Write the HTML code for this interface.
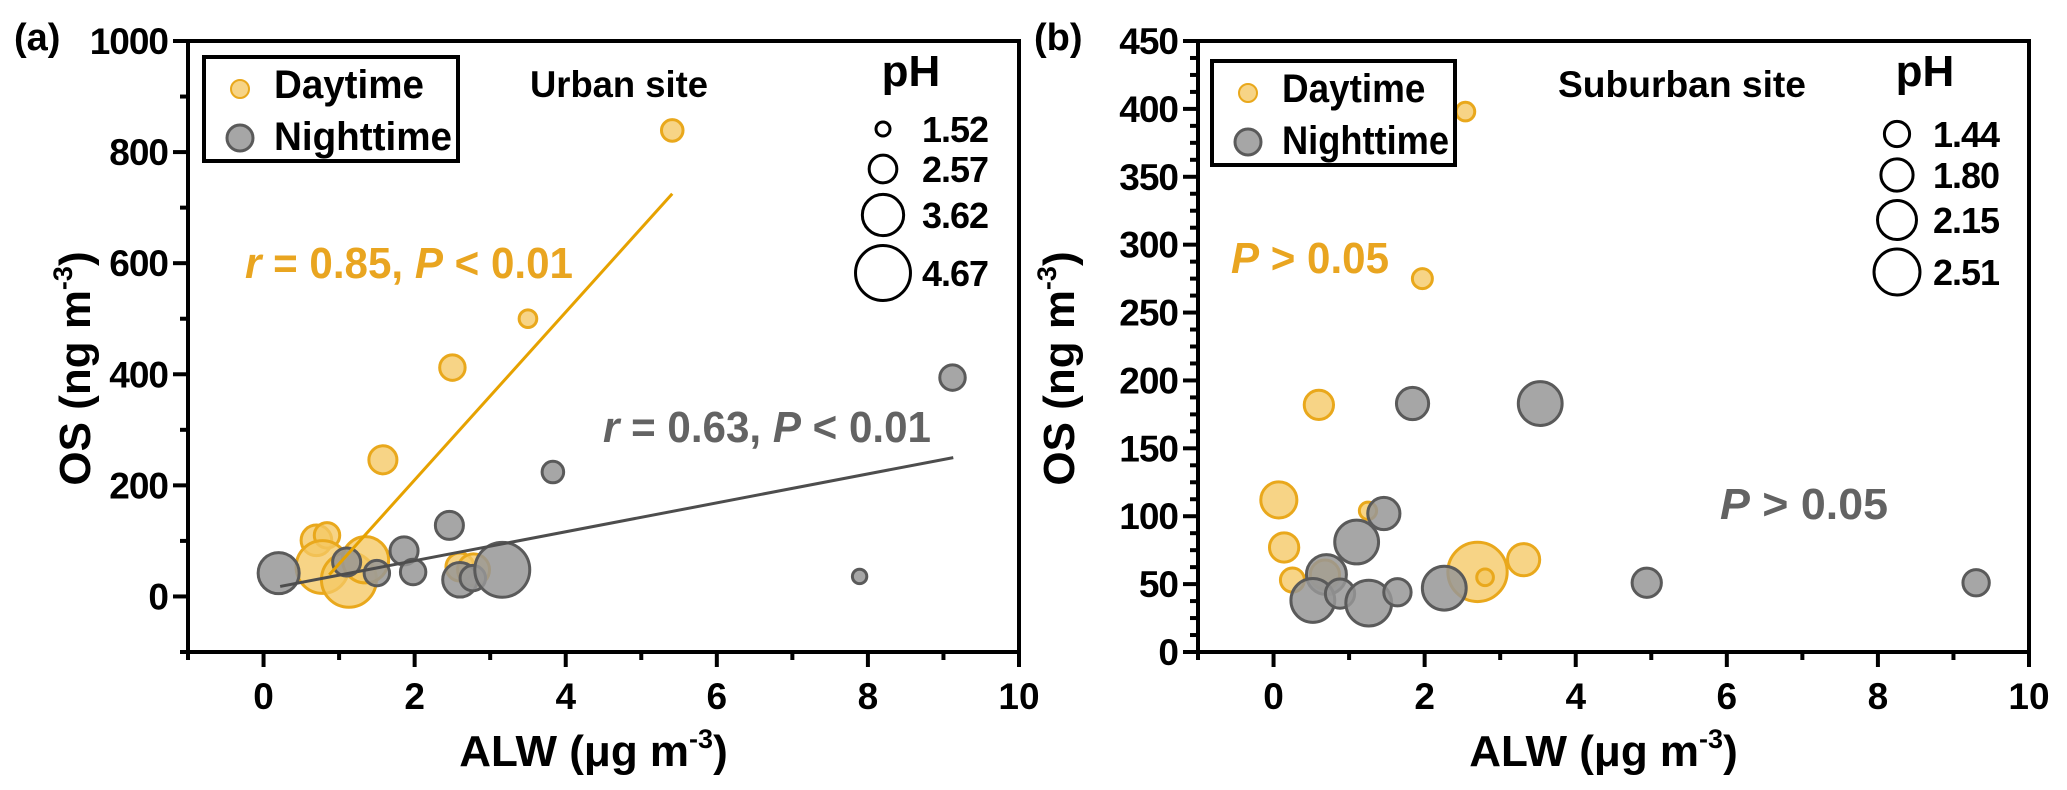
<!DOCTYPE html>
<html><head><meta charset="utf-8"><style>
html,body{margin:0;padding:0;background:#fff;}
svg{display:block;font-family:"Liberation Sans",Arial,sans-serif;}
</style></head><body>
<svg id="fig" width="2067" height="790" viewBox="0 0 2067 790" xmlns="http://www.w3.org/2000/svg"></svg>
<script>
// ---- Panel (a) urban data ----
const aDayX = [5.41, 3.5, 2.5, 1.58, 0.7, 0.84, 0.78, 1.13, 1.35, 2.6, 2.78];
const aDayY = [839, 500, 412, 246, 101, 110, 53, 30, 66, 53, 48];
const aDayPH = [2.1, 1.8, 2.4, 2.6, 2.8, 2.4, 4.5, 4.67, 4.0, 2.6, 2.9];
const aNightX = [0.2, 1.1, 1.5, 1.86, 1.98, 2.46, 2.6, 2.77, 3.16, 3.83, 7.89, 9.12];
const aNightY = [42, 62, 42, 82, 44, 128, 30, 33, 48, 224, 36, 394];
const aNightPH = [3.6, 2.6, 2.4, 2.6, 2.4, 2.6, 3.1, 2.4, 4.67, 2.1, 1.55, 2.4];
const aDayFit = [[0.87, 39], [5.41, 725]];
const aNightFit = [[0.22, 18], [9.13, 250]];
const aYTicks = [0, 200, 400, 600, 800, 1000];
const aPHLegend = [1.52, 2.57, 3.62, 4.67];
// ---- Panel (b) suburban data ----
const bDayX = [2.54, 1.97, 0.6, 0.07, 0.14, 0.25, 1.25, 2.7, 2.8, 3.31, 0.68];
const bDayY = [398, 275, 182, 112, 77, 53, 104, 59, 55, 68, 57];
const bDayPH = [1.1, 1.17, 1.65, 2.0, 1.65, 1.38, 1.03, 3.2, 1.0, 1.8, 1.65];
const bNightX = [1.84, 3.53, 1.46, 1.1, 0.7, 0.52, 0.88, 1.26, 1.64, 2.26, 4.94, 9.3];
const bNightY = [183, 183, 102, 81, 57, 38, 43, 36, 44, 47, 51, 51];
const bNightPH = [1.8, 2.4, 1.8, 2.4, 2.2, 2.4, 1.65, 2.5, 1.55, 2.4, 1.65, 1.5];
const bYTicks = [0, 50, 100, 150, 200, 250, 300, 350, 400, 450];
const bPHLegend = [1.44, 1.80, 2.15, 2.51];
const xTicks = [0, 2, 4, 6, 8, 10];

const NS = "http://www.w3.org/2000/svg";
const svg = document.getElementById('fig');
function mk(tag, attrs, parent, text) {
  const e = document.createElementNS(NS, tag);
  for (const k in attrs) e.setAttribute(k, attrs[k]);
  if (text !== undefined) e.textContent = text;
  (parent || svg).appendChild(e);
  return e;
}
const DAYFILL = "rgba(245,200,100,0.78)", DAYSTROKE = "#e9a81c";
const NIGHTFILL = "rgba(150,150,150,0.85)", NIGHTSTROKE = "#5a5a5a";

function panel(o) {
  const g = mk('g', {});
  
  
  const L = o.left, R = o.left + 831, T = 41, B = 652;
  const sx = v => L + (v + 1) / 11 * (R - L);
  const sy = v => B - (v - o.ymin) / (o.ymax - o.ymin) * (B - T);
  const rr = p => o.r0 + (p - o.p0) * o.rk;
  for (let v = -1; v <= 10; v++) {
    const major = v % 2 === 0;
    const t = mk('line', {x1: sx(v), x2: sx(v), y1: B, y2: B + (major ? 15 : 8), stroke: '#000', 'stroke-width': 4}, g);
    
    
  }
  xTicks.forEach(v => {
    const t = mk('text', {x: sx(v), y: 709, 'font-size': 37, 'font-weight': 'bold', 'text-anchor': 'middle'}, g, v);
    
    
  });
  const step = o.yTicks[1] - o.yTicks[0];
  const minor = step / o.minorN;
  for (let v = o.ymin; v <= o.ymax + 1e-6; v += minor) {
    const isMajor = Math.abs(v / step - Math.round(v / step)) < 1e-6;
    const t = mk('line', {x1: L - (isMajor ? 15 : 8), x2: L, y1: sy(v), y2: sy(v), stroke: '#000', 'stroke-width': 4}, g);
    
    
  }
  o.yTicks.forEach(v => {
    const t = mk('text', {x: L - 20, y: sy(v) + 13, 'font-size': 37, 'font-weight': 'bold', 'text-anchor': 'end', 'letter-spacing': -1}, g, v);
    
    
  });
  function pts(X, Y, P, fill, stroke, nm) {
    X.forEach((x, i) => {
      const c = mk('circle', {cx: sx(x), cy: sy(Y[i]), r: rr(P[i]), fill: fill, stroke: stroke, 'stroke-width': 3}, g);
      
      
    });
  }
  pts(o.dayX, o.dayY, o.dayPH, DAYFILL, DAYSTROKE, 'daytime-point');
  pts(o.nightX, o.nightY, o.nightPH, NIGHTFILL, NIGHTSTROKE, 'nighttime-point');
  if (o.dayFit) {
    const l1 = mk('line', {x1: sx(o.dayFit[0][0]), y1: sy(o.dayFit[0][1]), x2: sx(o.dayFit[1][0]), y2: sy(o.dayFit[1][1]), stroke: '#e6a200', 'stroke-width': 3}, g);
    
    
    const l2 = mk('line', {x1: sx(o.nightFit[0][0]), y1: sy(o.nightFit[0][1]), x2: sx(o.nightFit[1][0]), y2: sy(o.nightFit[1][1]), stroke: '#4d4d4d', 'stroke-width': 3}, g);
    
    
  }
  const f = mk('rect', {x: L, y: T, width: R - L, height: B - T, fill: 'none', stroke: '#000', 'stroke-width': 4}, g);
  
  
  const lg = mk('g', {}, g);
  
  
  mk('rect', {x: o.lx, y: o.ly, width: o.lw, height: 104, fill: '#fff', stroke: '#000', 'stroke-width': 4}, lg);
  mk('circle', {cx: o.lx + 36, cy: o.ly + 32, r: 9, fill: DAYFILL, stroke: DAYSTROKE, 'stroke-width': 2}, lg);
  mk('circle', {cx: o.lx + 36, cy: o.ly + 81, r: 13, fill: NIGHTFILL, stroke: NIGHTSTROKE, 'stroke-width': 3}, lg);
  mk('text', {x: o.lx + 70, y: o.ly + 41, 'font-size': 40, 'font-weight': 'bold', textLength: o.lw * 0.59, lengthAdjust: 'spacingAndGlyphs'}, lg, 'Daytime');
  mk('text', {x: o.lx + 70, y: o.ly + 93, 'font-size': 40, 'font-weight': 'bold', textLength: o.lw - 76, lengthAdjust: 'spacingAndGlyphs'}, lg, 'Nighttime');
  const st = mk('text', {x: o.siteX, y: 97, 'font-size': 37, 'font-weight': 'bold', textLength: o.siteW, lengthAdjust: 'spacingAndGlyphs'}, g, o.site);
  
  
  const pl = mk('g', {}, g);
  
  
  mk('text', {x: o.phx, y: 86, 'font-size': 44, 'font-weight': 'bold', 'text-anchor': 'middle'}, pl, 'pH');
  o.phLegend.forEach((p, i) => {
    const cy = o.phY[i];
    mk('circle', {cx: o.phcx, cy: cy, r: rr(p), fill: 'none', stroke: '#000', 'stroke-width': 3}, pl);
    mk('text', {x: o.phtx, y: cy + 13, 'font-size': 36, 'font-weight': 'bold', 'letter-spacing': -1}, pl, p.toFixed(2));
  });
  const xt = mk('text', {x: (L + R) / 2 - 10, y: 766, 'font-size': 44, 'font-weight': 'bold', 'text-anchor': 'middle'}, g);
  
  
  xt.innerHTML = 'ALW (μg m<tspan dy="-18" font-size="27">-3</tspan><tspan dy="18">)</tspan>';
  const yt = mk('text', {x: 0, y: 0, 'font-size': 44, 'font-weight': 'bold', 'text-anchor': 'middle', transform: `translate(${o.ytx},${sy((o.ymin + o.ymax) / 2) + 22}) rotate(-90)`}, g);
  
  
  yt.innerHTML = 'OS (ng m<tspan dy="-18" font-size="27">-3</tspan><tspan dy="18">)</tspan>';
  const pn = mk('text', {x: o.plx, y: 50, 'font-size': 38, 'font-weight': 'bold'}, g, o.pl);
  
  
  return g;
}

panel({name: 'panel-a-urban', left: 188, ymin: -100, ymax: 1000, yTicks: aYTicks, minorN: 2,
  dayX: aDayX, dayY: aDayY, dayPH: aDayPH, nightX: aNightX, nightY: aNightY, nightPH: aNightPH,
  dayFit: aDayFit, nightFit: aNightFit, r0: 7, p0: 1.52, rk: 6.5,
  lx: 204, ly: 57, lw: 254, site: 'Urban site', siteX: 530, siteW: 178,
  phx: 911, phcx: 883, phtx: 922, phLegend: aPHLegend, phY: [129, 169, 215, 273],
  ytx: 90, pl: '(a)', plx: 14});
panel({name: 'panel-b-suburban', left: 1198, ymin: 0, ymax: 450, yTicks: bYTicks, minorN: 4,
  dayX: bDayX, dayY: bDayY, dayPH: bDayPH, nightX: bNightX, nightY: bNightY, nightPH: bNightPH,
  dayFit: null, r0: 12.6, p0: 1.44, rk: 9.7,
  lx: 1212, ly: 61, lw: 243, site: 'Suburban site', siteX: 1558, siteW: 248,
  phx: 1925, phcx: 1897, phtx: 1933, phLegend: bPHLegend, phY: [134, 175, 220, 272],
  ytx: 1074, pl: '(b)', plx: 1034});

function ann(x, y, color, parts, nm, w) {
  const t = mk('text', {x: x, y: y, 'font-size': 44, 'font-weight': 'bold', fill: color, textLength: w, lengthAdjust: 'spacingAndGlyphs'});
  
  
  t.innerHTML = parts;
}
ann(245, 278, '#e9a520', '<tspan font-style="italic">r</tspan> = 0.85, <tspan font-style="italic">P</tspan> &lt; 0.01', 'daytime-correlation-label', 328);
ann(603, 442, '#636363', '<tspan font-style="italic">r</tspan> = 0.63, <tspan font-style="italic">P</tspan> &lt; 0.01', 'nighttime-correlation-label', 328);
ann(1231, 273, '#e9a520', '<tspan font-style="italic">P</tspan> &gt; 0.05', 'daytime-significance-label', 158);
ann(1720, 519, '#636363', '<tspan font-style="italic">P</tspan>  &gt; 0.05', 'nighttime-significance-label', 168);
</script>
</body></html>
